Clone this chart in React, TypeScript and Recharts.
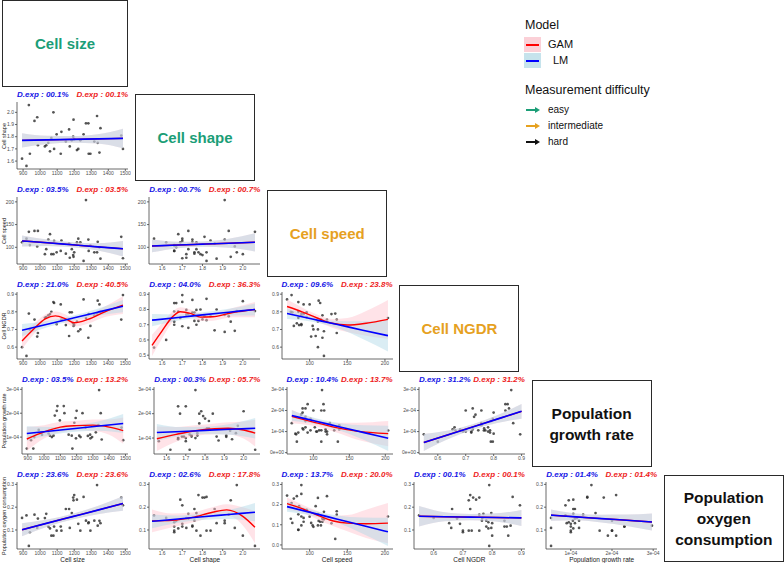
import React from "react";
import { ComposedChart, XAxis, YAxis, Scatter, Line, Area } from "recharts";

// one value per sample (39 samples)
const cellSize = [894, 920, 934, 940, 967, 983, 987, 1028, 1036, 1048, 1058, 1066, 1078, 1082, 1097, 1121, 1125, 1151, 1170, 1174, 1186, 1194, 1196, 1200, 1216, 1224, 1236, 1255, 1269, 1283, 1285, 1295, 1318, 1334, 1338, 1348, 1354, 1476, 1486];
const cellShape = [1.62, 1.56, 2.06, 1.66, 1.93, 1.96, 1.73, 1.72, 1.73, 1.75, 1.68, 1.79, 2.0, 1.7, 1.82, 1.66, 1.84, 1.76, 1.86, 1.72, 1.77, 1.8, 1.94, 1.78, 1.69, 1.7, 1.77, 1.82, 1.91, 1.91, 1.66, 1.66, 1.76, 1.97, 1.75, 1.67, 1.87, 1.81, 1.7];
const cellSpeed = [111, 119, 134, 105, 136, 102, 136, 85, 96, 117, 129, 85, 85, 114, 89, 92, 115, 86, 108, 77, 96, 83, 79, 89, 111, 119, 111, 70, 204, 117, 92, 104, 89, 89, 112, 100, 75, 123, 76];
const cellNgdr = [0.6, 0.55, 0.79, 0.7, 0.756, 0.66, 0.68, 0.766, 0.77, 0.78, 0.787, 0.8, 0.855, 0.85, 0.73, 0.842, 0.756, 0.725, 0.663, 0.797, 0.797, 0.735, 0.72, 0.725, 0.745, 0.69, 0.7, 0.87, 0.765, 0.653, 0.787, 0.72, 0.78, 0.79, 0.863, 0.842, 0.8, 0.756, 0.895];
const growthRate = [0.52e-4, 0.87e-4, 0.52e-4, 1.0e-4, 1.3e-4, 1.2e-4, 1.1e-4, 1.15e-4, 1.06e-4, 1.0e-4, 1.06e-4, 1.9e-4, 2.1e-4, 2.3e-4, 1.7e-4, 2.3e-4, 2.0e-4, 1.1e-4, 1.06e-4, 0.52e-4, 1.6e-4, 1.8e-4, 0.95e-4, 2.1e-4, 1.06e-4, 1.0e-4, 2.0e-4, 1.4e-4, 1.05e-4, 1.1e-4, 0.95e-4, 1.0e-4, 1.2e-4, 1.5e-4, 2.97e-4, 2.0e-4, 0.9e-4, 1.4e-4, 0.87e-4];
const oxygenUse = [0.153, 0.164, 0.03, 0.09, 0.167, 0.109, 0.15, 0.152, 0.171, 0.115, 0.107, 0.075, 0.075, 0.115, 0.097, 0.115, 0.097, 0.192, 0.192, 0.109, 0.174, 0.242, 0.23, 0.253, 0.233, 0.127, 0.097, 0.245, 0.141, 0.13, 0.134, 0.097, 0.141, 0.297, 0.119, 0.14, 0.13, 0.242, 0.208];

const varNames = ["Cell size", "Cell shape", "Cell speed", "Cell NGDR", "Population growth rate", "Population oxygen consumption"];
const varValues = [cellSize, cellShape, cellSpeed, cellNgdr, growthRate, oxygenUse];
const difficulty = ["easy", "easy", "intermediate", "intermediate", "hard", "hard"];

const sizeTicks = [900, 1000, 1100, 1200, 1300, 1400, 1500];
const shapeTicks = [1.6, 1.7, 1.8, 1.9, 2.0];
const speedTicks = [100, 150, 200];
const ngdrTicks = [0.5, 0.6, 0.7, 0.8, 0.9];
const growthTicks = [0, 1e-4, 2e-4, 3e-4];
const oxygenTicks = [0, 0.1, 0.2, 0.3];
const varTicks = [sizeTicks, shapeTicks, speedTicks, ngdrTicks, growthTicks, oxygenTicks];

// fitted curves: [x, fit, lower, upper]
type Fit = [number, number, number, number][];
const lmSizeShape: Fit = [[894, 1.77, 1.712, 1.828], [1042, 1.774, 1.741, 1.807], [1190, 1.778, 1.751, 1.805], [1338, 1.782, 1.744, 1.82], [1486, 1.786, 1.706, 1.866]];
const lmSizeSpeed: Fit = [[894, 114, 102, 126], [1042, 110, 103, 117], [1190, 105.5, 100, 111], [1338, 101, 93, 109], [1486, 97, 80, 114]];
const lmShapeSpeed: Fit = [[1.55, 103, 89, 117], [1.68, 105, 98, 112], [1.8, 107, 101, 113], [1.93, 109, 99, 119], [2.06, 111, 91, 131]];
const lmSizeNgdr: Fit = [[894, 0.696, 0.661, 0.731], [1042, 0.73, 0.712, 0.748], [1190, 0.764, 0.75, 0.778], [1338, 0.798, 0.778, 0.818], [1486, 0.832, 0.797, 0.867]];
const gamSizeNgdr: Fit = [[894, 0.635, 0.59, 0.68], [960, 0.7, 0.67, 0.73], [1030, 0.76, 0.735, 0.785], [1090, 0.777, 0.752, 0.802], [1150, 0.76, 0.735, 0.785], [1200, 0.738, 0.716, 0.76], [1280, 0.757, 0.732, 0.782], [1380, 0.8, 0.77, 0.83], [1486, 0.838, 0.788, 0.888]];
const lmShapeNgdr: Fit = [[1.55, 0.73, 0.69, 0.77], [1.68, 0.7475, 0.7275, 0.7675], [1.8, 0.765, 0.748, 0.782], [1.93, 0.7825, 0.7605, 0.8045], [2.06, 0.8, 0.76, 0.84]];
const gamShapeNgdr: Fit = [[1.55, 0.565, 0.495, 0.635], [1.6, 0.66, 0.61, 0.71], [1.65, 0.75, 0.715, 0.785], [1.69, 0.785, 0.755, 0.815], [1.74, 0.775, 0.75, 0.8], [1.79, 0.75, 0.725, 0.775], [1.85, 0.752, 0.727, 0.777], [1.95, 0.78, 0.75, 0.81], [2.06, 0.8, 0.75, 0.85]];
const lmSpeedNgdr: Fit = [[70, 0.79, 0.76, 0.82], [103.5, 0.759, 0.744, 0.774], [137, 0.728, 0.708, 0.748], [170.5, 0.696, 0.646, 0.746], [204, 0.665, 0.575, 0.755]];
const gamSpeedNgdr: Fit = [[70, 0.83, 0.79, 0.87], [90, 0.8, 0.775, 0.825], [110, 0.765, 0.745, 0.785], [130, 0.735, 0.71, 0.76], [150, 0.725, 0.685, 0.765], [175, 0.735, 0.665, 0.805], [204, 0.757, 0.647, 0.867]];
const lmSizeGrowth: Fit = [[894, 1.15e-4, 0.85e-4, 1.45e-4], [1042, 1.255e-4, 1.085e-4, 1.425e-4], [1190, 1.36e-4, 1.22e-4, 1.5e-4], [1338, 1.465e-4, 1.265e-4, 1.665e-4], [1486, 1.57e-4, 1.17e-4, 1.97e-4]];
const gamSizeGrowth: Fit = [[894, 0.92e-4, 0.42e-4, 1.42e-4], [1000, 1.22e-4, 0.94e-4, 1.5e-4], [1100, 1.42e-4, 1.2e-4, 1.64e-4], [1200, 1.48e-4, 1.28e-4, 1.68e-4], [1300, 1.5e-4, 1.26e-4, 1.74e-4], [1400, 1.42e-4, 1.1e-4, 1.74e-4], [1486, 1.27e-4, 0.72e-4, 1.82e-4]];
const lmShapeGrowth: Fit = [[1.55, 1.23e-4, 0.88e-4, 1.58e-4], [1.68, 1.27e-4, 1.09e-4, 1.45e-4], [1.8, 1.315e-4, 1.165e-4, 1.465e-4], [1.93, 1.36e-4, 1.14e-4, 1.58e-4], [2.06, 1.4e-4, 0.98e-4, 1.82e-4]];
const gamShapeGrowth: Fit = [[1.55, 0.97e-4, 0.47e-4, 1.47e-4], [1.65, 1.15e-4, 0.85e-4, 1.45e-4], [1.75, 1.3e-4, 1.08e-4, 1.52e-4], [1.85, 1.38e-4, 1.16e-4, 1.6e-4], [1.92, 1.4e-4, 1.15e-4, 1.65e-4], [2.0, 1.33e-4, 0.98e-4, 1.68e-4], [2.06, 1.2e-4, 0.65e-4, 1.75e-4]];
const lmSpeedGrowth: Fit = [[70, 1.76e-4, 1.51e-4, 2.01e-4], [103.5, 1.49e-4, 1.35e-4, 1.63e-4], [137, 1.22e-4, 1.04e-4, 1.4e-4], [170.5, 0.95e-4, 0.6e-4, 1.3e-4], [204, 0.68e-4, 0.08e-4, 1.28e-4]];
const gamSpeedGrowth: Fit = [[70, 1.72e-4, 1.4e-4, 2.04e-4], [100, 1.45e-4, 1.27e-4, 1.63e-4], [130, 1.2e-4, 0.98e-4, 1.42e-4], [160, 1.02e-4, 0.62e-4, 1.42e-4], [204, 0.9e-4, 0.3e-4, 1.5e-4]];
const lmNgdrGrowth: Fit = [[0.55, 0.48e-4, 0.08e-4, 0.88e-4], [0.6375, 0.85e-4, 0.65e-4, 1.05e-4], [0.725, 1.22e-4, 1.09e-4, 1.35e-4], [0.8125, 1.59e-4, 1.41e-4, 1.77e-4], [0.9, 1.96e-4, 1.61e-4, 2.31e-4]];
const lmSizeOxygen: Fit = [[894, 0.101, 0.073, 0.129], [1042, 0.13, 0.114, 0.146], [1190, 0.1585, 0.1455, 0.1715], [1338, 0.187, 0.169, 0.205], [1486, 0.216, 0.184, 0.248]];
const lmShapeOxygen: Fit = [[1.55, 0.138, 0.108, 0.168], [1.68, 0.148, 0.132, 0.164], [1.8, 0.158, 0.144, 0.172], [1.93, 0.168, 0.148, 0.188], [2.06, 0.178, 0.138, 0.218]];
const gamShapeOxygen: Fit = [[1.55, 0.14, 0.09, 0.19], [1.65, 0.142, 0.112, 0.172], [1.75, 0.155, 0.133, 0.177], [1.85, 0.178, 0.156, 0.2], [1.92, 0.188, 0.163, 0.213], [2.0, 0.16, 0.12, 0.2], [2.06, 0.112, 0.042, 0.182]];
const lmSpeedOxygen: Fit = [[70, 0.19, 0.165, 0.215], [103.5, 0.159, 0.145, 0.173], [137, 0.1275, 0.1095, 0.1455], [170.5, 0.096, 0.056, 0.136], [204, 0.065, -0.005, 0.135]];
const gamSpeedOxygen: Fit = [[70, 0.205, 0.175, 0.235], [90, 0.18, 0.16, 0.2], [110, 0.148, 0.128, 0.168], [130, 0.12, 0.095, 0.145], [150, 0.108, 0.068, 0.148], [175, 0.105, 0.035, 0.175], [204, 0.108, 0.008, 0.208]];
const lmNgdrOxygen: Fit = [[0.55, 0.16, 0.115, 0.205], [0.6375, 0.158, 0.138, 0.178], [0.725, 0.1565, 0.1425, 0.1705], [0.8125, 0.155, 0.137, 0.173], [0.9, 0.153, 0.118, 0.188]];
const lmGrowthOxygen: Fit = [[0.52e-4, 0.165, 0.14, 0.19], [1.13e-4, 0.1575, 0.1425, 0.1725], [1.745e-4, 0.15, 0.133, 0.167], [2.36e-4, 0.1425, 0.1175, 0.1675], [2.97e-4, 0.135, 0.098, 0.172]];

// row = y variable, col = x variable, deviance explained (LM / GAM)
const panels = [
  { row: 1, col: 0, lm: lmSizeShape, gam: lmSizeShape, lmExp: "00.1", gamExp: "00.1" },
  { row: 2, col: 0, lm: lmSizeSpeed, gam: lmSizeSpeed, lmExp: "03.5", gamExp: "03.5" },
  { row: 2, col: 1, lm: lmShapeSpeed, gam: lmShapeSpeed, lmExp: "00.7", gamExp: "00.7" },
  { row: 3, col: 0, lm: lmSizeNgdr, gam: gamSizeNgdr, lmExp: "21.0", gamExp: "40.5" },
  { row: 3, col: 1, lm: lmShapeNgdr, gam: gamShapeNgdr, lmExp: "04.0", gamExp: "36.3" },
  { row: 3, col: 2, lm: lmSpeedNgdr, gam: gamSpeedNgdr, lmExp: "09.6", gamExp: "23.8" },
  { row: 4, col: 0, lm: lmSizeGrowth, gam: gamSizeGrowth, lmExp: "03.5", gamExp: "13.2" },
  { row: 4, col: 1, lm: lmShapeGrowth, gam: gamShapeGrowth, lmExp: "00.3", gamExp: "05.7" },
  { row: 4, col: 2, lm: lmSpeedGrowth, gam: gamSpeedGrowth, lmExp: "10.4", gamExp: "13.7" },
  { row: 4, col: 3, lm: lmNgdrGrowth, gam: lmNgdrGrowth, lmExp: "31.2", gamExp: "31.2" },
  { row: 5, col: 0, lm: lmSizeOxygen, gam: lmSizeOxygen, lmExp: "23.6", gamExp: "23.6" },
  { row: 5, col: 1, lm: lmShapeOxygen, gam: gamShapeOxygen, lmExp: "02.6", gamExp: "17.8" },
  { row: 5, col: 2, lm: lmSpeedOxygen, gam: gamSpeedOxygen, lmExp: "13.7", gamExp: "20.0" },
  { row: 5, col: 3, lm: lmNgdrOxygen, gam: lmNgdrOxygen, lmExp: "00.1", gamExp: "00.1" },
  { row: 5, col: 4, lm: lmGrowthOxygen, gam: lmGrowthOxygen, lmExp: "01.4", gamExp: "01.4" },
];

const FONT = "'Liberation Sans', Arial, Helvetica, sans-serif";
const COL_W = 132.3;
const ROW_H = 95;
const diffColor: Record<string, string> = { easy: "#1b9e77", intermediate: "#e6a11f", hard: "#111111" };

const fmt = (v: number, vi: number) => {
  if (vi === 4) return Math.abs(v) < 1e-9 ? "0e+00" : `${Math.round(v * 1e4)}e-04`;
  if (vi === 0 || vi === 2) return String(v);
  return v.toFixed(1);
};

const pad = (lo: number, hi: number): [number, number] => {
  const d = (hi - lo) * 0.05;
  return [lo - d, hi + d];
};

const Dot = (p: any) => <circle cx={p.cx} cy={p.cy} r={1.35} fill="#2b2b2b" fillOpacity={0.8} />;

const Panel = ({ p }: { p: (typeof panels)[number] }) => {
  const xs = varValues[p.col];
  const ys = varValues[p.row];
  const pts = xs.map((x, k) => ({ x, y: ys[k] }));
  const toRows = (f: Fit) => f.map(([x, y, lo, hi]) => ({ x, y, band: [lo, hi] }));
  const lmRows = toRows(p.lm);
  const gamRows = toRows(p.gam);
  const xDom = pad(Math.min(...xs), Math.max(...xs));
  const allY = [...ys, ...p.lm.flatMap((r) => [r[2], r[3]]), ...p.gam.flatMap((r) => [r[2], r[3]])];
  const yDom = pad(Math.min(...allY), Math.max(...allY));
  const xT = varTicks[p.col].filter((t) => t >= xDom[0] && t <= xDom[1]);
  const yT = varTicks[p.row].filter((t) => t >= yDom[0] && t <= yDom[1]);
  const yW = p.row === 4 ? 22 : 17;
  const left = COL_W * p.col;
  const top = 100 + ROW_H * (p.row - 1);
  const axisStyle = { stroke: "#444", strokeWidth: 0.8 };
  return (
    <>
      <div
        style={{
          position: "absolute",
          left: left + yW,
          width: 128 - yW,
          top: 90 + ROW_H * (p.row - 1),
          height: 10,
          lineHeight: "10px",
          display: "flex",
          justifyContent: "space-between",
          fontSize: 8,
          fontWeight: "bold",
          fontStyle: "italic",
          whiteSpace: "nowrap",
        }}
      >
        <span style={{ color: "#1414e6" }}>D.exp : {p.lmExp}%</span>
        <span style={{ color: "#ee1c1c" }}>D.exp : {p.gamExp}%</span>
      </div>
      <div style={{ position: "absolute", left, top }}>
        <ComposedChart width={131} height={78} margin={{ top: 2, right: 3, bottom: 0, left: 0 }}>
          <XAxis
            type="number"
            dataKey="x"
            domain={xDom}
            ticks={xT}
            interval={0}
            allowDataOverflow
            tickFormatter={(v) => fmt(v, p.col)}
            tick={{ fontSize: 5, fill: "#4d4d4d" }}
            tickSize={2}
            tickMargin={0}
            axisLine={axisStyle}
            tickLine={axisStyle}
            height={9}
          />
          <YAxis
            type="number"
            dataKey="y"
            domain={yDom}
            ticks={yT}
            interval={0}
            allowDataOverflow
            tickFormatter={(v) => fmt(v, p.row)}
            tick={{ fontSize: 5, fill: "#4d4d4d" }}
            tickSize={2}
            tickMargin={1}
            axisLine={axisStyle}
            tickLine={axisStyle}
            width={yW}
          />
          <Scatter data={pts} dataKey="y" shape={Dot} zIndex={50} isAnimationActive={false} />
          <Area data={gamRows} dataKey="band" type="monotone" stroke="none" fill="#ffc0cb" fillOpacity={0.45} isAnimationActive={false} />
          <Area data={lmRows} dataKey="band" type="monotone" stroke="none" fill="#add8e6" fillOpacity={0.45} isAnimationActive={false} />
          <Line data={gamRows} dataKey="y" type="monotone" stroke="#ff0000" strokeWidth={1.4} dot={false} isAnimationActive={false} />
          <Line data={lmRows} dataKey="y" type="monotone" stroke="#0000ff" strokeWidth={1.6} dot={false} isAnimationActive={false} />
        </ComposedChart>
      </div>
    </>
  );
};

const Arrow = ({ color }: { color: string }) => (
  <svg width={16} height={8} style={{ display: "block" }}>
    <line x1={1} y1={4} x2={11} y2={4} stroke={color} strokeWidth={2} />
    <polygon points="10,1 15,4 10,7" fill={color} />
  </svg>
);

export default function App() {
  const boxLefts = [2, 135, 267.2, 399.4, 531.6, 663.8];
  const boxTops = [0, 94.3, 190, 285, 380, 475];
  return (
    <div style={{ position: "absolute", left: 0, top: 0, width: 784, height: 563, background: "#fff", fontFamily: FONT, overflow: "hidden" }}>
      {varNames.map((name, k) => (
        <div
          key={name}
          style={{
            position: "absolute",
            left: boxLefts[k],
            top: boxTops[k],
            width: k === 0 ? 126 : 120,
            height: 87,
            boxSizing: "border-box",
            border: "1.4px solid #2a2a2a",
            display: "flex",
            alignItems: "center",
            justifyContent: "center",
            textAlign: "center",
            color: diffColor[difficulty[k]],
            fontWeight: "bold",
            fontSize: k < 4 ? 15 : 15.5,
            lineHeight: "21px",
            padding: "0 6px",
          }}
        >
          {name}
        </div>
      ))}

      {panels.map((p, k) => (
        <Panel key={k} p={p} />
      ))}

      {[1, 2, 3, 4, 5].map((r) => (
        <div
          key={"yt" + r}
          style={{
            position: "absolute",
            left: 4,
            top: 135.5 + ROW_H * (r - 1),
            transform: "translate(-50%, -50%) rotate(-90deg)",
            fontSize: 5.5,
            lineHeight: "6px",
            whiteSpace: "nowrap",
            color: "#222",
          }}
        >
          {varNames[r]}
        </div>
      ))}
      {[0, 1, 2, 3, 4].map((c) => (
        <div
          key={"xt" + c}
          style={{
            position: "absolute",
            left: COL_W * c + 17,
            width: 111,
            top: 556.5,
            height: 6,
            lineHeight: "6px",
            textAlign: "center",
            fontSize: 6.5,
            whiteSpace: "nowrap",
            color: "#222",
          }}
        >
          {varNames[c]}
        </div>
      ))}

      <div style={{ position: "absolute", left: 525, top: 18, fontSize: 12.5, color: "#111" }}>Model</div>
      <div style={{ position: "absolute", left: 524, top: 37, width: 17, height: 15, background: "#fbd0d7" }} />
      <div style={{ position: "absolute", left: 524, top: 53, width: 17, height: 15, background: "#c6e3ec" }} />
      <div style={{ position: "absolute", left: 526, top: 43.5, width: 13, height: 2, background: "#ff0000" }} />
      <div style={{ position: "absolute", left: 526, top: 59.5, width: 13, height: 2, background: "#0000ff" }} />
      <div style={{ position: "absolute", left: 548, top: 38, fontSize: 11, color: "#111" }}>GAM</div>
      <div style={{ position: "absolute", left: 553, top: 54, fontSize: 11, color: "#111" }}>LM</div>

      <div style={{ position: "absolute", left: 525, top: 83, fontSize: 12.5, color: "#111" }}>Measurement difficulty</div>
      {["easy", "intermediate", "hard"].map((d, k) => (
        <div key={d} style={{ position: "absolute", left: 525, top: 104 + 16 * k, display: "flex", alignItems: "center", fontSize: 10, color: "#111" }}>
          <Arrow color={diffColor[d]} />
          <span style={{ marginLeft: 7 }}>{d}</span>
        </div>
      ))}
    </div>
  );
}
